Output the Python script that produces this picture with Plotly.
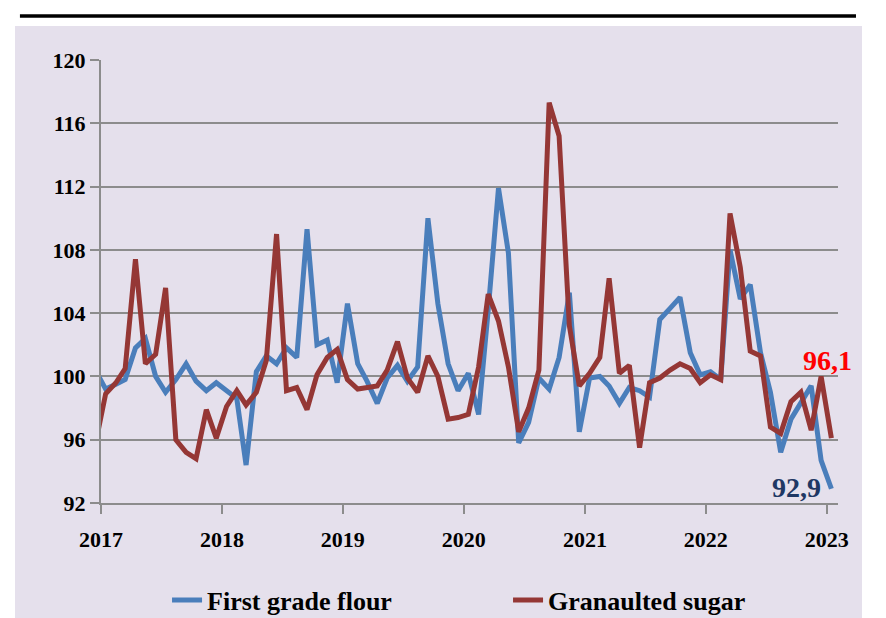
import plotly.graph_objects as go
import pandas as pd

# Monthly points, Dec 2016 .. Jan 2023 (placed mid-month)
months = pd.date_range("2016-12-01", "2023-01-01", freq="MS") + pd.Timedelta(days=14)

flour = [100.4,
         99.2, 99.5, 99.8, 101.8, 102.4, 100.0, 99.0, 99.8, 100.8, 99.7, 99.1, 99.6,
         99.1, 98.6, 94.4, 100.3, 101.3, 100.8, 101.8, 101.2, 109.3, 102.0, 102.3, 99.6,
         104.6, 100.8, 99.7, 98.3, 99.9, 100.7, 99.7, 100.6, 110.0, 104.6, 100.8, 99.1,
         100.2, 97.6, 104.2, 111.9, 107.8, 95.8, 97.1, 99.9, 99.2, 101.2, 105.3, 96.5,
         99.9, 100.0, 99.4, 98.3, 99.3, 99.1, 98.7, 103.6, 104.3, 105.0, 101.5, 100.1,
         100.3, 99.8, 108.0, 104.9, 105.8, 101.5, 99.0, 95.2, 97.3, 98.3, 99.4, 94.7,
         92.9]

sugar = [95.7,
         98.9, 99.6, 100.5, 107.4, 100.8, 101.4, 105.6, 96.0, 95.2, 94.8, 97.9, 96.1,
         98.1, 99.1, 98.2, 99.0, 101.0, 109.0, 99.1, 99.3, 97.9, 100.1, 101.2, 101.7,
         99.8, 99.2, 99.3, 99.4, 100.4, 102.2, 99.9, 99.0, 101.3, 100.0, 97.3, 97.4,
         97.6, 100.6, 105.2, 103.5, 100.6, 96.5, 98.0, 100.4, 117.3, 115.2, 103.2, 99.4,
         100.2, 101.2, 106.2, 100.2, 100.7, 95.5, 99.6, 99.9, 100.4, 100.8, 100.5, 99.6,
         100.1, 99.8, 110.3, 106.9, 101.6, 101.3, 96.8, 96.4, 98.4, 99.0, 96.6, 100.0,
         96.1]

year_labels = ["2017", "2018", "2019", "2020", "2021", "2022", "2023"]
year_vals = [f"{y}-01-01" for y in year_labels]
series_names = ["First grade flour", "Granaulted sugar"]

BLUE = "#4a7ebb"
RED = "#953735"
GRID = "#8c8c8c"
FONT = "Liberation Serif"

fig = go.Figure()
fig.add_trace(go.Scatter(x=months, y=flour, mode="lines", name=series_names[0],
                         line=dict(color=BLUE, width=5)))
fig.add_trace(go.Scatter(x=months, y=sugar, mode="lines", name=series_names[1],
                         line=dict(color=RED, width=5)))

def fmt(v):
    return f"{v:.1f}".replace(".", ",")

fig.add_annotation(x=months[-1], y=sugar[-1], xref="x", yref="y", text=fmt(sugar[-1]),
                   showarrow=False, xshift=-4, yshift=78,
                   font=dict(family=FONT, size=28, color="#ff0000", weight="bold"))
fig.add_annotation(x=months[-1], y=flour[-1], xref="x", yref="y", text=fmt(flour[-1]),
                   showarrow=False, xshift=-35, yshift=1,
                   font=dict(family=FONT, size=28, color="#1f3864", weight="bold"))

# background panel and top rule (paper coordinates; plot 737 x 443 px)
fig.add_shape(type="rect", xref="paper", yref="paper", x0=-0.1167, x1=1.0326,
              y0=-0.35, y1=1.0767, fillcolor="#e5e0ec", line_width=0, layer="below")
fig.add_shape(type="line", xref="paper", yref="paper", x0=-0.11, x1=1.0244,
              y0=1.0993, y1=1.0993, line=dict(color="black", width=3.5))

# page body adds an 8 px margin, so the figure is 8 px smaller than the window
fig.update_layout(
    width=878, height=610, autosize=False,
    margin=dict(l=93, r=48, t=52, b=115),
    paper_bgcolor="white", plot_bgcolor="white",
    showlegend=True,
    legend=dict(orientation="h", x=0.0896, xanchor="left",
                yref="container", y=0.0295, yanchor="middle",
                entrywidth=296, entrywidthmode="pixels", bgcolor="rgba(0,0,0,0)",
                font=dict(family=FONT, size=26, color="black", weight="bold")),
    xaxis=dict(type="date", range=["2017-01-01", "2023-02-04"],
               tickvals=year_vals, ticktext=year_labels,
               ticks="outside", ticklen=9, tickwidth=2, tickcolor=GRID,
               showline=True, linecolor=GRID, linewidth=2, showgrid=False,
               ticklabelstandoff=7,
               tickfont=dict(family=FONT, size=22, color="black", weight="bold")),
    yaxis=dict(range=[92, 120], tick0=92, dtick=4,
               ticks="outside", ticklen=9, tickwidth=2, tickcolor=GRID,
               showline=True, linecolor=GRID, linewidth=2,
               showgrid=True, gridcolor=GRID, gridwidth=2, zeroline=False,
               tickfont=dict(family=FONT, size=22, color="black", weight="bold")),
)

fig.write_html("out.html")
